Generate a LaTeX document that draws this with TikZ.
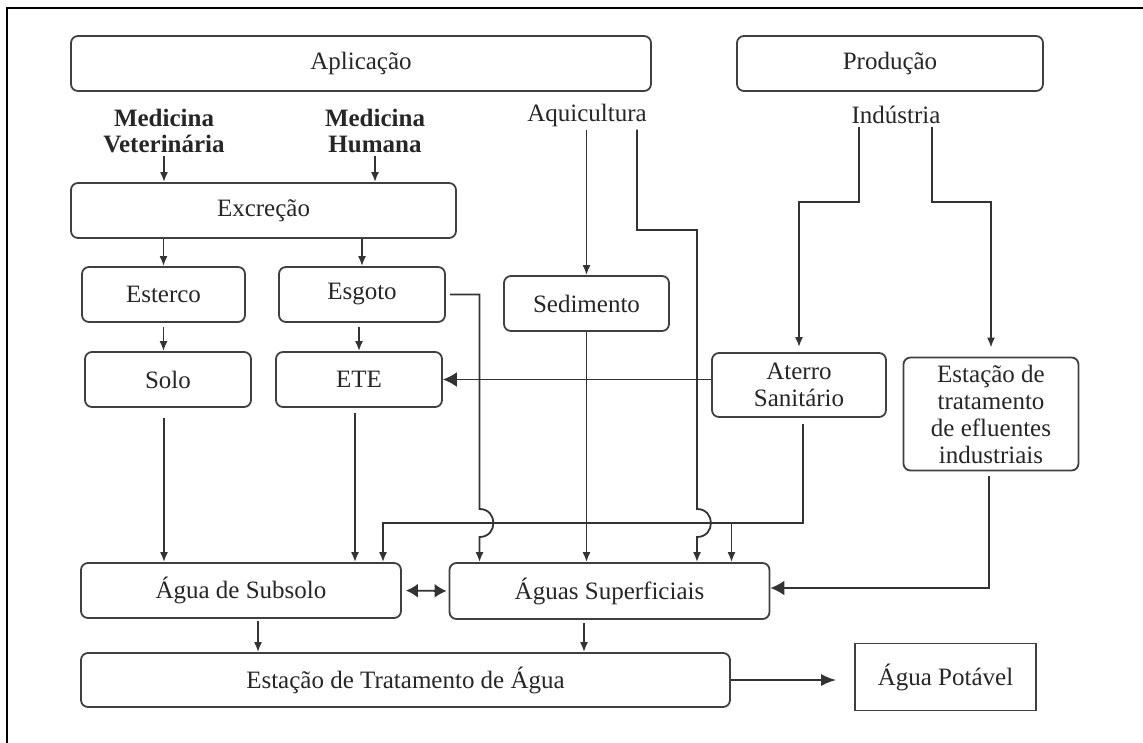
\documentclass[tikz,border=0pt]{standalone}
\usepackage{fontspec}
\setmainfont{Liberation Serif}
\usetikzlibrary{arrows.meta}

\begin{document}
\begin{tikzpicture}[x=1pt,y=-1pt,
  font=\fontsize{25}{27}\selectfont, text=black!85,
  box/.style={draw=black!75, line width=1.8pt, rounded corners=7pt, align=center, inner sep=0pt},
  lbl/.style={align=center, inner sep=3pt},
  arr/.style={draw=black!80, line width=1.8pt, -{Latex[length=10pt,width=8pt]}},
  bigarr/.style={draw=black!80, line width=1.8pt, -{Latex[length=14pt,width=15pt]}},
  hop/.style={out=0,in=0,looseness=1.7}]

\useasboundingbox (0,0) rectangle (1143,742);
\draw[black, line width=1.5pt] (7,8) rectangle (1180,780);

\node[box, minimum width=580pt, minimum height=55pt] (apl) at (361,63.5) {Aplicação};
\node[box, minimum width=306pt, minimum height=55pt] (prod) at (890,63.5) {Produção};

\node[lbl, font=\fontsize{25}{26}\selectfont\bfseries] (medvet) at (164,131) {Medicina\\Veterinária};
\node[lbl, font=\fontsize{25}{26}\selectfont\bfseries] (medhum) at (375,131) {Medicina\\Humana};
\node[lbl] (aqui) at (587,115) {Aquicultura};
\node[lbl] (ind) at (896,115) {Indústria};

\node[box, minimum width=385pt, minimum height=55pt] (excr) at (263.5,210.5) {Excreção};
\node[box, minimum width=163pt, minimum height=55pt] (esterco) at (163.5,294.5) {Esterco};
\node[box, minimum width=166pt, minimum height=55pt] (esgoto) at (362,294.5) {Esgoto};
\node[box, minimum width=166pt, minimum height=55pt] (solo) at (168,379.5) {Solo};
\node[box, minimum width=166pt, minimum height=55pt] (ete) at (359,379.5) {ETE};
\node[box, minimum width=165pt, minimum height=55pt] (sed) at (586.5,303.5) {Sedimento};
\node[box, minimum width=174pt, minimum height=64pt] (aterro) at (799,385) {Aterro\\Sanitário};
\node[box, minimum width=175pt, minimum height=113pt] (eflu) at (991,414) {Estação de\\tratamento\\de efluentes\\industriais};
\node[box, minimum width=320pt, minimum height=55pt] (sub) at (241,590.5) {Água de Subsolo};
\node[box, minimum width=320pt, minimum height=56pt] (sup) at (609.5,591) {Águas Superficiais};
\node[box, minimum width=649pt, minimum height=54pt] (eta) at (405.5,680) {Estação de Tratamento de Água};
\node[box, rounded corners=0pt, minimum width=181pt, minimum height=67pt] (pot) at (945.5,677) {Água Potável};

\coordinate (indy) at (0,202);
\coordinate (aquib) at (697,230);
\coordinate (hopt) at (0,509);
\coordinate (cross) at (0,523);

\draw[arr] (medvet.south) -- (medvet.south |- excr.north);
\draw[arr] (medhum.south) -- (medhum.south |- excr.north);
\draw[arr] (esterco.north |- excr.south) -- (esterco.north);
\draw[arr] (esgoto.north |- excr.south) -- (esgoto.north);
\draw[arr, shorten <=4pt] (esterco.south) -- (esterco.south |- solo.north);
\draw[arr, shorten <=4pt] (ete.north |- esgoto.south) -- (ete.north);

\draw[arr] (sed.north |- aqui.south) -- (sed.north);
\draw[arr] (sed.south) -- (sed.south |- sup.north);
\draw[arr] ([xshift=50pt]aqui.south) |- (aquib) -- (aquib |- hopt) to[hop] ++(0,28) -- (aquib |- sup.north);

\draw[arr, shorten >=5pt] ([xshift=-37pt]ind.south) |- (aterro.north |- indy) -- (aterro.north);
\draw[arr, shorten >=9pt] ([xshift=36pt]ind.south) |- (eflu.north |- indy) -- (eflu.north);
\draw[bigarr] (aterro.west |- ete.east) -- (ete.east);

\draw[arr, shorten <=4pt] (esgoto.east) -| ([xshift=-130pt]sup.north |- hopt) to[hop] ++(0,28) -- ([xshift=-130pt]sup.north);
\draw[arr, shorten <=6pt] ([xshift=4pt]aterro.south) |- ([xshift=142pt]sub.north |- cross) -- ([xshift=142pt]sub.north);
\draw[arr] ([xshift=122pt]sup.north |- cross) -- ([xshift=122pt]sup.north);

\draw[arr, shorten <=10pt] ([xshift=-4pt]solo.south) -- ([xshift=-4pt]solo.south |- sub.north);
\draw[arr, shorten <=5pt] ([xshift=-4pt]ete.south) -- ([xshift=-4pt]ete.south |- sub.north);
\draw[bigarr, shorten <=5pt] ([xshift=-2pt]eflu.south) |- ([yshift=3pt]sup.east);

\draw[draw=black!80, line width=1.8pt, {Latex[length=12pt,width=14pt]}-{Latex[length=12pt,width=14pt]}, shorten <=4pt, shorten >=2pt] (sub.east) -- (sup.west);
\draw[arr, shorten <=2pt] ([xshift=17pt]sub.south) -- ([xshift=17pt]sub.south |- eta.north);
\draw[arr, shorten <=3pt] ([xshift=-25.5pt]sup.south) -- ([xshift=-25.5pt]sup.south |- eta.north);
\draw[draw=black!80, line width=1.8pt, -{Latex[length=15pt,width=12pt]}, shorten >=18pt] (eta.east) -- (pot.west |- eta.east);

\end{tikzpicture}
\end{document}
